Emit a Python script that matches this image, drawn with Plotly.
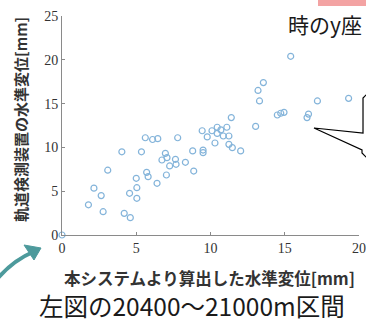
import plotly.graph_objects as go

# data
sys_x = [0, 1.78, 2.15, 2.64, 2.77, 3.08, 4.03, 4.19, 4.6, 4.55, 5.0, 5.04, 5.04, 5.35,
         5.61, 6.1, 6.45, 7.79, 5.7, 5.8, 6.4, 7.03, 6.96, 7.07, 6.73, 7.64, 7.25, 7.68,
         8.31, 8.8, 8.87, 9.5, 9.5, 9.44, 9.78, 10.1, 10.3, 10.45, 10.7, 11.1, 10.45,
         10.86, 11.24, 11.24, 11.47, 12.03, 11.4, 13.04, 13.2, 13.3, 13.56, 14.5, 14.73,
         14.95, 15.4, 16.5, 16.6, 17.2, 19.3]
track_y = [0, 3.45, 5.35, 4.5, 2.66, 7.4, 9.5, 2.47, 1.98, 4.76, 6.47, 5.4, 4.19, 9.5,
           11.1, 10.9, 11.0, 11.1, 7.15, 6.66, 5.9, 6.85, 9.32, 8.83, 8.56, 8.64, 7.88, 8.07,
           8.3, 9.6, 7.3, 9.7, 9.4, 11.9, 11.2, 11.9, 10.5, 12.3, 12.0, 12.3, 11.6,
           11.3, 11.3, 10.35, 9.97, 9.6, 13.4, 12.4, 16.5, 15.3, 17.4, 13.7, 13.9,
           14.0, 20.4, 13.4, 13.8, 15.3, 15.6]
x_ticks = [0, 5, 10, 15, 20]
y_ticks = [0, 5, 10, 15, 20, 25]
x_title = "本システムより算出した水準変位[mm]"
y_title = "軌道検測装置の水準変位[mm]"
caption = "左図の20400～21000m区間"
top_text = "時のy座"

W, H = 366, 323
L, R, T, B = 62, 7, 16, 88
PW, PH = W - L - R, H - T - B


def px(x):
    return (x - L) / PW


def py(y):
    return (H - B - y) / PH


def path(points, close=False):
    s = "M " + " L ".join(f"{px(a):.4f},{py(b):.4f}" for a, b in points)
    return s + (" Z" if close else "")


fig = go.Figure()
fig.add_trace(go.Scatter(
    x=sys_x, y=track_y, mode="markers",
    marker=dict(symbol="circle-open", size=6, color="#84b4da", line=dict(width=1.2)),
    cliponaxis=False, showlegend=False,
))

axis_common = dict(
    showgrid=False, zeroline=False, showline=True, linecolor="#8a8a8a", linewidth=1,
    ticks="inside", ticklen=3, tickcolor="#8a8a8a", automargin=False,
    tickfont=dict(family="Liberation Serif", size=14, color="#333333"),
)
fig.update_xaxes(range=[0, 20], tickvals=x_ticks, **axis_common)
fig.update_yaxes(range=[0, 25], tickvals=y_ticks, **axis_common)

ann_font = dict(family="Noto Sans CJK JP", color="#333333")
fig.add_annotation(text=f"<b>{y_title}</b>", xref="paper", yref="paper",
                   x=px(20), y=py(120), textangle=-90, showarrow=False,
                   xanchor="center", yanchor="middle",
                   font=dict(size=15, **ann_font))
fig.add_annotation(text=f"<b>{x_title}</b>", xref="paper", yref="paper",
                   x=px(209), y=py(278), showarrow=False,
                   xanchor="center", yanchor="middle",
                   font=dict(size=16.5, **ann_font))
fig.add_annotation(text=caption, xref="paper", yref="paper",
                   x=px(37), y=py(305.5), showarrow=False,
                   xanchor="left", yanchor="middle",
                   font=dict(size=24.5, family="Noto Sans CJK JP", color="#1a1a1a"))
fig.add_annotation(text=top_text, xref="paper", yref="paper",
                   x=px(286), y=py(24), showarrow=False,
                   xanchor="left", yanchor="middle",
                   font=dict(size=21, family="Noto Sans CJK JP", color="#1a1a1a"))

# pink label box (cropped) at top right
fig.add_shape(type="rect", xref="paper", yref="paper",
              x0=px(318), x1=px(370), y0=py(6), y1=py(-10),
              fillcolor="#f3a3a3", line=dict(width=0), layer="above")

# speech bubble with tail
bubble = [(380, 92), (369, 92), (363, 98), (363, 133), (314, 128), (362, 150),
          (362, 153), (367, 158), (380, 158)]
fig.add_shape(type="path", xref="paper", yref="paper", path=path(bubble),
              fillcolor="white", line=dict(color="black", width=1.2), layer="above")

# teal arrow
fig.add_shape(type="path", xref="paper", yref="paper",
              path=f"M {px(-2):.4f},{py(278):.4f} Q {px(14):.4f},{py(260):.4f} {px(33):.4f},{py(252):.4f}",
              line=dict(color="#4d9a9c", width=4), layer="above")
fig.add_shape(type="path", xref="paper", yref="paper",
              path=path([(41, 248), (24, 245), (34, 260)], close=True),
              fillcolor="#4d9a9c", line=dict(color="#4d9a9c", width=1), layer="above")

fig.update_layout(
    width=W, height=H, margin=dict(l=L, r=R, t=T, b=B),
    paper_bgcolor="white", plot_bgcolor="white",
)
fig.write_html("out.html", config={"displayModeBar": False},
               post_script="document.body.style.margin='0';document.body.style.overflow='hidden';")
